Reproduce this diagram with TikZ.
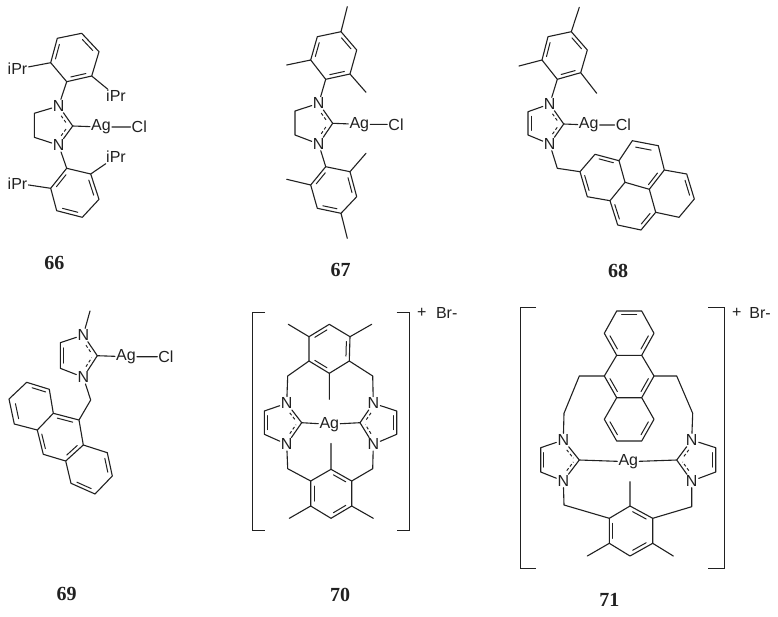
\documentclass[tikz,border=0pt]{standalone}
\usepackage{fontspec}
\setmainfont{Liberation Sans}
\newfontfamily\serifbold[BoldFont={Liberation Serif Bold}]{Liberation Serif}
\usetikzlibrary{calc}
\definecolor{ink}{gray}{0.13}
\tikzset{
  bond/.style={draw=ink,line width=1.1pt,line join=round,line cap=round},
  innerbond/.style={bond,line width=1pt},
  dashbond/.style={bond,line width=0.95pt,line cap=butt,dash pattern=on 3pt off 2.2pt},
  atom/.style={text=ink,font=\fontsize{16}{16}\selectfont,inner sep=1.2pt,outer sep=0pt},
  brk/.style={draw=ink,line width=1.1pt},
  cpd/.style={text=ink,font=\fontsize{20}{20}\selectfont\serifbold\bfseries,inner sep=0pt}
}
% inner line of a double bond
\newcommand\dbl[3]{\draw[innerbond] ($($(#1)!.14!(#2)$)!.17!(#3)$) -- ($($(#2)!.14!(#1)$)!.17!(#3)$);}
% benzene ring; bonds 1-2, 3-4, 5-6 are double
\newcommand\hx[7]{%
  \coordinate (#11) at (#2);\coordinate (#12) at (#3);\coordinate (#13) at (#4);
  \coordinate (#14) at (#5);\coordinate (#15) at (#6);\coordinate (#16) at (#7);
  \coordinate (#1c) at ($(#11)!.5!(#14)$);
  \draw[bond] (#11)--(#12)--(#13)--(#14)--(#15)--(#16)--cycle;
  \dbl{#11}{#12}{#1c}\dbl{#13}{#14}{#1c}\dbl{#15}{#16}{#1c}}
% NHC ring
\newcommand\imid[6]{%
  \node[atom] (#1n1) at (#2) {N};
  \coordinate (#1c2) at (#3);
  \node[atom] (#1n3) at (#4) {N};
  \coordinate (#1c4) at (#5);\coordinate (#1c5) at (#6);
  \coordinate (#1c) at ($(#1c2)!.5!($(#1c4)!.5!(#1c5)$)$);
  \draw[bond] (#1n1)--(#1c2)--(#1n3)--(#1c5)--(#1c4)--(#1n1);
  \draw[dashbond] ($($(#1n1)!.34!(#1c2)$)!.23!(#1c)$) -- ($($(#1n1)!.88!(#1c2)$)!.23!(#1c)$);
  \draw[dashbond] ($($(#1n3)!.34!(#1c2)$)!.23!(#1c)$) -- ($($(#1n3)!.88!(#1c2)$)!.23!(#1c)$);}
\begin{document}
\begin{tikzpicture}[x=1pt,y=-1pt]
\useasboundingbox (0,0) rectangle (778,616);
\fill[white] (0,0) rectangle (778,616);

% ---------- 66
\hx{aa}{81.7,33.3}{99,51.7}{91.7,76}{66.7,81.7}{50.7,62.7}{57.3,38.3}
\hx{ab}{90.7,174}{99,199.3}{82.3,217.3}{56.7,210.7}{50.7,188.3}{66.7,168.3}
\imid{ai}{58.7,106}{72.7,126}{58.7,145.3}{34.3,113.3}{34.3,137.3}
\node[atom] (aAg) at (101,127) {Ag};
\node[atom] (aCl) at (139.3,127) {Cl};
\node[atom] (aP1) at (17.5,69) {iPr};
\node[atom] (aP2) at (116,96) {iPr};
\node[atom] (aP3) at (116,156.7) {iPr};
\node[atom] (aP4) at (17.5,183.3) {iPr};
\draw[bond] (ain1)--(aa4) (ain3)--(ab6) (aa5)--(aP1) (aa3)--(aP2) (ab1)--(aP3) (ab5)--(aP4)
  (aic2)--(aAg) (aAg)--(aCl);
\node[cpd] (t66) at (54.3,263.3) {66};

% ---------- 67
\hx{ba}{341,31.7}{356.7,50}{350,74}{325.7,79.3}{310.7,60}{317.3,36.7}
\hx{bb}{350,171.7}{356.7,196.7}{341,213.3}{317.3,208.3}{310.7,185}{325.7,166.7}
\imid{bi}{318.7,103.3}{332.7,123.3}{318.7,144}{295,111}{295,135}
\node[atom] (bAg) at (359.3,124.3) {Ag};
\node[atom] (bCl) at (396,124.3) {Cl};
\coordinate (bm1) at (347.3,6.7);\coordinate (bm2) at (286.7,65);\coordinate (bm3) at (366,92.3);
\coordinate (bm4) at (366,153.3);\coordinate (bm5) at (286.7,179.3);\coordinate (bm6) at (347.3,238.3);
\draw[bond] (bin1)--(ba4) (bin3)--(bb6) (ba1)--(bm1) (ba5)--(bm2) (ba3)--(bm3)
  (bb1)--(bm4) (bb5)--(bm5) (bb3)--(bm6) (bic2)--(bAg) (bAg)--(bCl);
\node[cpd] (t67) at (340.7,270) {67};

% ---------- 68
\hx{ca}{571.3,31.7}{587.3,50}{580.7,72.7}{557.3,79.3}{542,60}{548,36.7}
\imid{ci}{549.7,104}{563.7,124}{549.7,144}{528,111.7}{528,135}
\dbl{cic4}{cic5}{cic}
\node[atom] (cAg) at (588.7,125) {Ag};
\node[atom] (cCl) at (623.3,125) {Cl};
\coordinate (cm1) at (579.3,7.3);\coordinate (cm2) at (519,66);\coordinate (cm3) at (596.7,93.3);
\coordinate (cch) at (557.3,168.3);
\foreach \n/\x/\y in {a/580/171.7,b/595/154.3,c/619/160.7,d/632.3/140.7,e/658.3/145.7,f/664.3/170,
  g/686.7/174,h/694.3/199,i/679/217.3,j/655.7/212.3,k/641/230,l/617.7/225,m/610/200.7,n/587.3/196.7,
  o/625/182.3,p/649.3/189.3}{\coordinate (py\n) at (\x,\y);}
\coordinate (pyR1) at ($(pya)!.5!(pyo)$);
\coordinate (pyR2) at ($(pyc)!.5!(pyp)$);
\coordinate (pyR3) at ($(pyf)!.5!(pyi)$);
\coordinate (pyR4) at ($(pym)!.5!(pyj)$);
\draw[bond] (cin1)--(ca4) (ca1)--(cm1) (ca5)--(cm2) (ca3)--(cm3) (cic2)--(cAg) (cAg)--(cCl)
  (cin3)--(cch)--(pya);
\draw[bond] (pya)--(pyb)--(pyc)--(pyd)--(pye)--(pyf)--(pyg)--(pyh)--(pyi)--(pyj)--(pyk)--(pyl)--(pym)--(pyn)--cycle
  (pyc)--(pyo)--(pym) (pyo)--(pyp)--(pyf) (pyp)--(pyj);
\dbl{pyb}{pyc}{pyR1}\dbl{pya}{pyn}{pyR1}\dbl{pyd}{pye}{pyR2}\dbl{pyf}{pyp}{pyR2}
\dbl{pyg}{pyh}{pyR3}\dbl{pyl}{pym}{pyR4}\dbl{pyj}{pyk}{pyR4}
\node[cpd] (t68) at (618,270.5) {68};

% ---------- 69
\imid{di}{83.3,335}{97.3,355.7}{83.3,377.3}{60.3,342.7}{60.3,368.3}
\dbl{dic4}{dic5}{dic}
\node[atom] (dAg) at (126,356.7) {Ag};
\node[atom] (dCl) at (166,356.7) {Cl};
\coordinate (dme) at (90,311);\coordinate (dch) at (90.7,400);
\foreach \n/\x/\y in {a/79/420,b/53.3/413.3,c/49.3/389.3,d/26.7/382.3,e/9/399,f/14.3/424,g/37.3/430,
  h/43.3/454.3,i/65.7/461,j/71/483.3,k/95/494,l/112.3/476,m/107.3/452.7,n/83.3/445}{\coordinate (an\n) at (\x,\y);}
\coordinate (anR1) at ($(anc)!.5!(ang)$);
\coordinate (anR2) at ($(anb)!.5!(ani)$);
\coordinate (anR3) at ($(ann)!.5!(ank)$);
\draw[bond] (din1)--(dme) (din3)--(dch)--(ana) (dic2)--(dAg) (dAg)--(dCl);
\draw[bond] (ana)--(anb)--(anc)--(and)--(ane)--(anf)--(ang)--(anb) (ang)--(anh)--(ani)--(ann)--(ana)
  (ann)--(anm)--(anl)--(ank)--(anj)--(ani);
\dbl{anc}{and}{anR1}\dbl{ane}{anf}{anR1}\dbl{ana}{anb}{anR2}\dbl{ang}{anh}{anR2}\dbl{ani}{ann}{anR2}
\dbl{anm}{anl}{anR3}\dbl{ank}{anj}{anR3}
\node[cpd] (t69) at (66.7,594.3) {69};

% ---------- 70
\hx{ea}{309,336.7}{329.3,324.3}{350,336.7}{349.3,361}{329.3,373.3}{309,361}
\hx{eb}{331,469.3}{351.7,481}{351.7,506}{331,518.3}{310.7,506}{310.7,481}
\imid{eL}{286.7,403.3}{301.7,422.7}{286.7,444.3}{264.3,411}{264.3,434.3}
\imid{eR}{373.3,403.3}{360,422.7}{373.3,444.3}{396.7,411}{396.7,434.3}
\dbl{eLc4}{eLc5}{eLc}\dbl{eRc4}{eRc5}{eRc}
\node[atom] (eAg) at (329.3,424.3) {Ag};
\coordinate (em1) at (288.3,324.3);\coordinate (em2) at (371.7,324.3);\coordinate (em3) at (329.3,399.3);
\coordinate (em4) at (331,443.3);\coordinate (em5) at (289.3,518.3);\coordinate (em6) at (373.3,518.3);
\coordinate (ec1) at (287.7,376);\coordinate (ec2) at (372.7,376);
\coordinate (ec3) at (287.7,468.7);\coordinate (ec4) at (372.7,468.7);
\draw[bond] (ea1)--(em1) (ea3)--(em2) (ea5)--(em3) (eb1)--(em4) (eb5)--(em5) (eb3)--(em6)
  (ea6)--(ec1)--(eLn1) (ea4)--(ec2)--(eRn1) (eb6)--(ec3)--(eLn3) (eb2)--(ec4)--(eRn3)
  (eLc2)--(eAg) (eAg)--(eRc2);
\coordinate (eb1a) at (265,312.5);\coordinate (eb1b) at (252.5,312.5);
\coordinate (eb1c) at (252.5,530.5);\coordinate (eb1d) at (265,530.5);
\coordinate (eb2a) at (396.7,312.5);\coordinate (eb2b) at (409.5,312.5);
\coordinate (eb2c) at (409.5,530.5);\coordinate (eb2d) at (396.7,530.5);
\draw[brk] (eb1a)--(eb1b)--(eb1c)--(eb1d);
\draw[brk] (eb2a)--(eb2b)--(eb2c)--(eb2d);
\node[atom] (ep) at (421.7,313) {+};
\node[atom] (eBr) at (446.7,313.3) {Br-};
\node[cpd] (t70) at (340,595.3) {70};

% ---------- 71
\foreach \n/\x/\y in {a/616.7/311,b/641.7/311,c/654/333.3,d/641.7/355.3,e/616.7/355.3,f/604.3/333.3,
  g/654/376,h/604.3/376,i/641.7/397.7,j/616.7/397.7,k/654/419.3,l/641.7/441,m/616.7/441,n/604.3/419.3}{\coordinate (fa\n) at (\x,\y);}
\coordinate (faR1) at ($(faa)!.5!(fad)$);
\coordinate (faR2) at ($(fae)!.5!(fai)$);
\coordinate (faR3) at ($(fai)!.5!(fam)$);
\draw[bond] (faa)--(fab)--(fac)--(fad)--(fae)--(faf)--cycle (fad)--(fag)--(fai)--(faj)--(fah)--(fae)
  (fai)--(fak)--(fal)--(fam)--(fan)--(faj);
\dbl{faa}{fab}{faR1}\dbl{fac}{fad}{faR1}\dbl{fae}{faf}{faR1}
\dbl{fag}{fai}{faR2}\dbl{fah}{faj}{faR2}
\dbl{fak}{fal}{faR3}\dbl{fam}{fan}{faR3}
\hx{fb}{630,506}{652.7,518.3}{652.7,543.3}{630,556}{609.3,543.3}{609.3,518.3}
\imid{fL}{563.3,440}{579.3,460}{563.3,481}{540.7,447.7}{540.7,472}
\imid{fR}{691.7,440}{676.7,460}{691.7,481}{715.7,447.7}{715.7,472}
\dbl{fLc4}{fLc5}{fLc}\dbl{fRc4}{fRc5}{fRc}
\node[atom] (fAg) at (628.3,461.7) {Ag};
\coordinate (fc1) at (579.3,376);\coordinate (fc2) at (676.7,376);
\coordinate (fc3) at (564,413.3);\coordinate (fc4) at (692.7,413.3);
\coordinate (fc5) at (564,505);\coordinate (fc6) at (691.7,506.7);
\coordinate (fm1) at (630,481.7);\coordinate (fm2) at (587.3,556);\coordinate (fm3) at (673.3,556);
\draw[bond] (fah)--(fc1)--(fc3)--(fLn1) (fag)--(fc2)--(fc4)--(fRn1)
  (fLn3)--(fc5)--(fb6) (fRn3)--(fc6)--(fb2)
  (fb1)--(fm1) (fb5)--(fm2) (fb3)--(fm3) (fLc2)--(fAg) (fAg)--(fRc2);
\coordinate (fb1a) at (536,307.5);\coordinate (fb1b) at (520.5,307.5);
\coordinate (fb1c) at (520.5,568.5);\coordinate (fb1d) at (536,568.5);
\coordinate (fb2a) at (708.3,307.5);\coordinate (fb2b) at (724.5,307.5);
\coordinate (fb2c) at (724.5,568.5);\coordinate (fb2d) at (708.3,568.5);
\draw[brk] (fb1a)--(fb1b)--(fb1c)--(fb1d);
\draw[brk] (fb2a)--(fb2b)--(fb2c)--(fb2d);
\node[atom] (fp) at (736.7,312.5) {+};
\node[atom] (fBr) at (760,312.7) {Br-};
\node[cpd] (t71) at (609.3,600) {71};
\end{tikzpicture}
\end{document}
